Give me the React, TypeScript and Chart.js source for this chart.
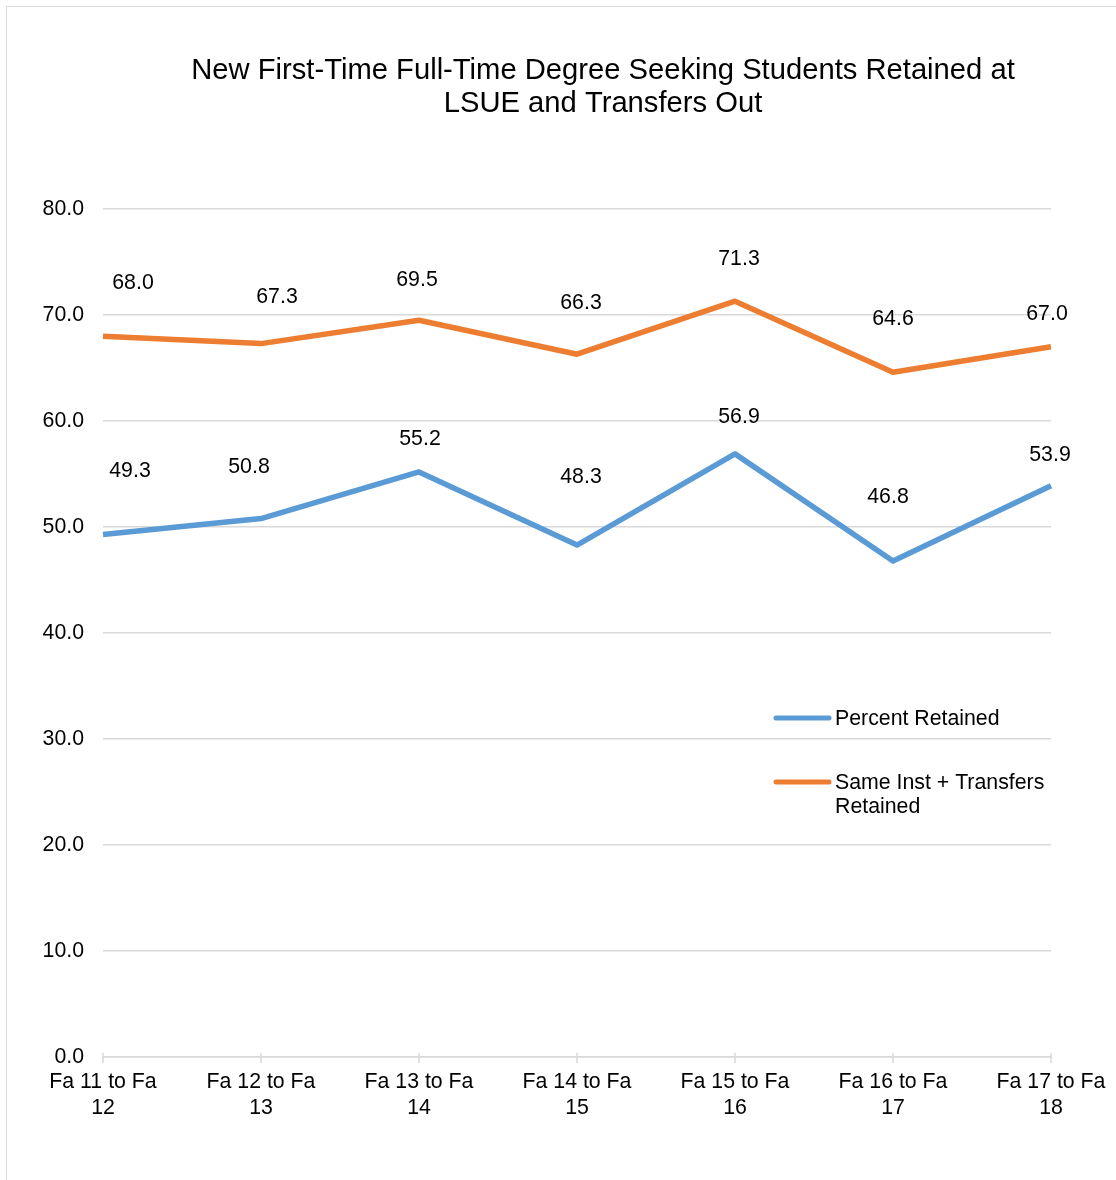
import React, { useEffect, useRef } from "react";
import { Chart, registerables } from "chart.js";

Chart.register(...registerables);

const categories: string[][] = [
  ["Fa 11 to Fa", "12"],
  ["Fa 12 to Fa", "13"],
  ["Fa 13 to Fa", "14"],
  ["Fa 14 to Fa", "15"],
  ["Fa 15 to Fa", "16"],
  ["Fa 16 to Fa", "17"],
  ["Fa 17 to Fa", "18"],
];
const percentRetained: number[] = [49.3, 50.8, 55.2, 48.3, 56.9, 46.8, 53.9];
const sameInstTransfers: number[] = [68.0, 67.3, 69.5, 66.3, 71.3, 64.6, 67.0];
const yTicks: number[] = [0, 10, 20, 30, 40, 50, 60, 70, 80];
const titleLines: string[] = [
  "New First-Time Full-Time Degree Seeking Students Retained at",
  "LSUE and Transfers Out",
];
const seriesNames: string[][] = [["Percent Retained"], ["Same Inst + Transfers", "Retained"]];

// label placement offsets (px) relative to each point, as in the reference
const blueLabelOffsets: [number, number][] = [[27, -63], [-12, -51], [1, -33], [4, -68], [4, -37], [-5, -64], [-1, -31]];
const orangeLabelOffsets: [number, number][] = [[30, -53], [16, -47], [-2, -40], [4, -51], [4, -42], [0, -53], [-4, -33]];

const BLUE = "#5B9BD5";
const ORANGE = "#ED7D31";
const GRID = "#d9d9d9";
const FONT = "'Liberation Sans', Arial, sans-serif";
const TEXT = "#000000";
const FS = 21.3;

export default function App() {
  const ref = useRef<HTMLCanvasElement | null>(null);
  useEffect(() => {
    if (!ref.current) return;
    const overlay = {
      id: "overlay",
      afterDatasetsDraw(chart: any) {
        const ctx = chart.ctx;
        const area = chart.chartArea;
        ctx.save();
        // title
        ctx.fillStyle = TEXT;
        ctx.textAlign = "center";
        ctx.textBaseline = "middle";
        ctx.font = `29.2px ${FONT}`;
        ctx.fillText(titleLines[0], 603, 71);
        ctx.fillText(titleLines[1], 603, 104);
        // x tick marks crossing the axis
        const xs = chart.scales.x;
        ctx.strokeStyle = GRID;
        ctx.lineWidth = 1.5;
        for (let i = 0; i < categories.length; i++) {
          const px = xs.getPixelForValue(i);
          ctx.beginPath();
          ctx.moveTo(px, area.bottom - 4);
          ctx.lineTo(px, area.bottom + 6);
          ctx.stroke();
        }
        // data labels
        ctx.font = `${FS}px ${FONT}`;
        ctx.fillStyle = TEXT;
        const offs = [blueLabelOffsets, orangeLabelOffsets];
        chart.data.datasets.forEach((ds: any, di: number) => {
          const meta = chart.getDatasetMeta(di);
          meta.data.forEach((pt: any, i: number) => {
            const [dx, dy] = offs[di][i];
            ctx.fillText(Number(ds.data[i]).toFixed(1), pt.x + dx, pt.y + dy);
          });
        });
        // legend
        const colors = [BLUE, ORANGE];
        const lx = area.right - 275;
        const ys = [area.top + 509, area.top + 573];
        ctx.textAlign = "left";
        ctx.lineCap = "round";
        colors.forEach((c, i) => {
          ctx.strokeStyle = c;
          ctx.lineWidth = 5;
          ctx.beginPath();
          ctx.moveTo(lx, ys[i]);
          ctx.lineTo(lx + 53, ys[i]);
          ctx.stroke();
          ctx.fillStyle = TEXT;
          seriesNames[i].forEach((t, j) => ctx.fillText(t, lx + 59, ys[i] + 1 + j * 24));
        });
        ctx.restore();
      },
    };
    const chart = new Chart(ref.current, {
      type: "line",
      data: {
        labels: categories,
        datasets: [
          {
            label: seriesNames[0].join(" "),
            data: percentRetained,
            borderColor: BLUE,
            backgroundColor: BLUE,
            borderWidth: 5.5,
            pointRadius: 0,
            borderJoinStyle: "round",
            tension: 0,
          },
          {
            label: seriesNames[1].join(" "),
            data: sameInstTransfers,
            borderColor: ORANGE,
            backgroundColor: ORANGE,
            borderWidth: 5.5,
            pointRadius: 0,
            borderJoinStyle: "round",
            tension: 0,
          },
        ],
      },
      options: {
        responsive: false,
        animation: false,
        layout: { padding: { top: 209, left: 0, right: 65, bottom: 0 } },
        plugins: {
          legend: { display: false },
          title: { display: false },
          tooltip: { enabled: false },
        },
        scales: {
          x: {
            offset: false,
            grid: { display: false, drawTicks: false },
            border: { display: true, color: GRID, width: 1.5 },
            ticks: {
              color: TEXT,
              font: { family: FONT, size: FS, lineHeight: 1.18 },
              padding: 13,
              maxRotation: 0,
              autoSkip: false,
            },
            afterFit: (s: any) => {
              s.height = 123;
              s.paddingLeft = 0;
              s.paddingRight = 0;
            },
          },
          y: {
            min: 0,
            max: 80,
            afterBuildTicks: (s: any) => {
              s.ticks = yTicks.map((v) => ({ value: v }));
            },
            grid: { color: GRID, lineWidth: 1.5, drawTicks: false },
            border: { display: false },
            ticks: {
              color: TEXT,
              font: { family: FONT, size: FS },
              padding: 19,
              callback: (v: any) => Number(v).toFixed(1),
            },
            afterFit: (s: any) => {
              s.width = 103;
              s.paddingTop = 0;
              s.paddingBottom = 0;
            },
          },
        },
      },
      plugins: [overlay],
    });
    return () => chart.destroy();
  }, []);
  return (
    <div style={{ position: "absolute", left: 0, top: 0, width: 1116, height: 1180, background: "#fff", overflow: "hidden" }}>
      <div style={{ position: "absolute", left: 6, top: 6, width: 1130, height: 1190, border: "1.5px solid #d9d9d9", boxSizing: "border-box" }} />
      <canvas ref={ref} width={1116} height={1180} style={{ position: "absolute", left: 0, top: 0 }} />
    </div>
  );
}
